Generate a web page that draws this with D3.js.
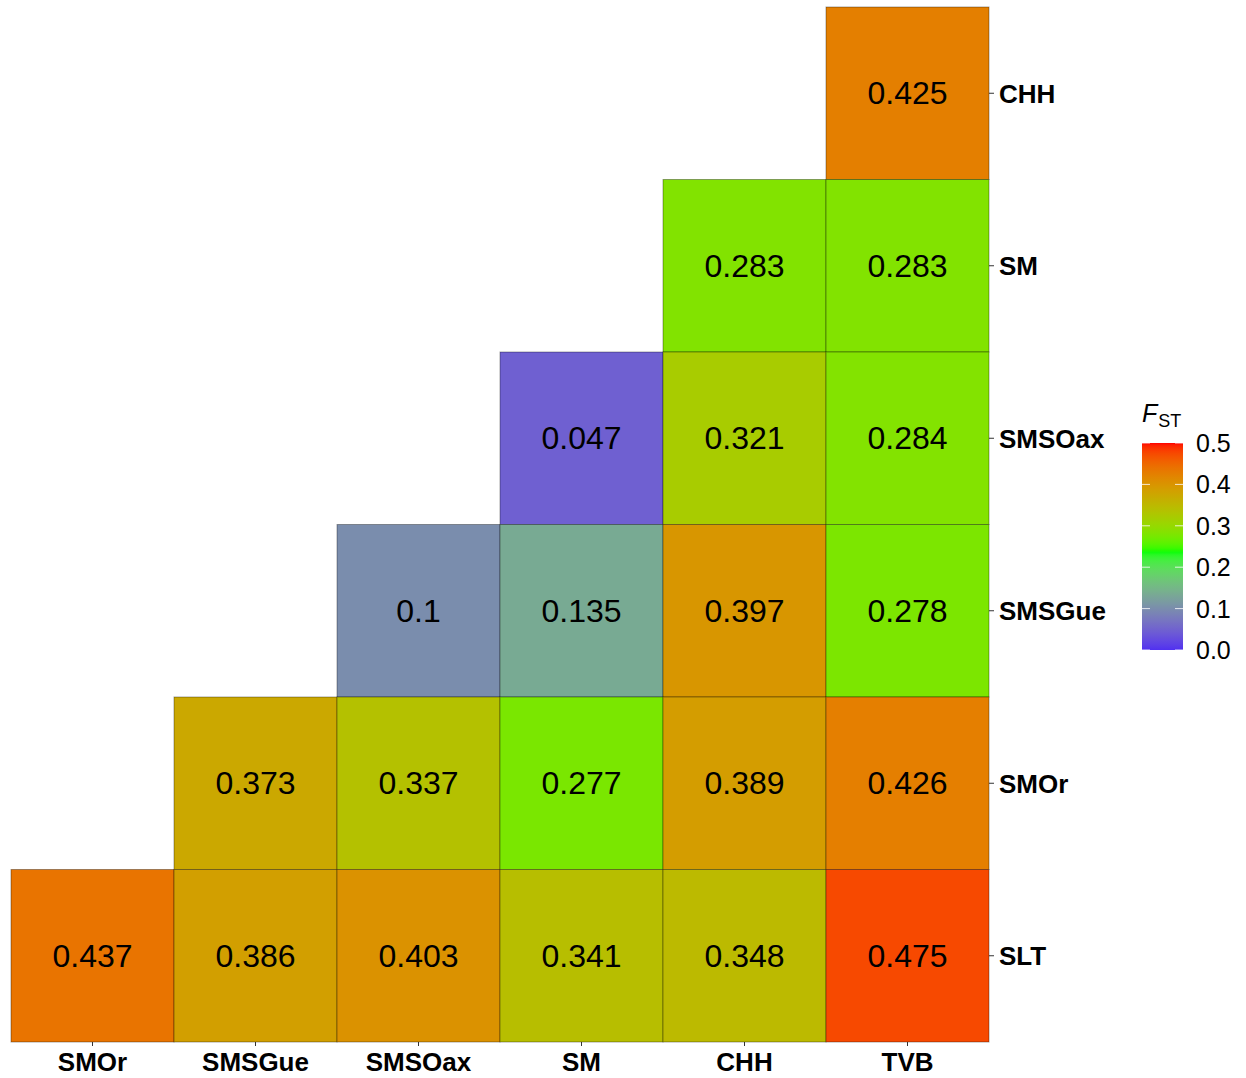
<!DOCTYPE html>
<html>
<head>
<meta charset="utf-8">
<script src="https://cdn.jsdelivr.net/npm/d3@7/dist/d3.min.js"></script>
<style>
  html, body { margin: 0; padding: 0; background: #ffffff; }
  svg { display: block; font-family: "Liberation Sans", Arial, sans-serif; }
</style>
</head>
<body>
<svg id="chart" width="1246" height="1078"></svg>
<script>
// Population order along each axis
const colPops = ["SMOr", "SMSGue", "SMSOax", "SM", "CHH", "TVB"];
const rowPops = ["CHH", "SM", "SMSOax", "SMSGue", "SMOr", "SLT"];

// Pairwise FST: column population, row population, value
const pairCol = ["TVB",
                 "CHH", "TVB",
                 "SM", "CHH", "TVB",
                 "SMSOax", "SM", "CHH", "TVB",
                 "SMSGue", "SMSOax", "SM", "CHH", "TVB",
                 "SMOr", "SMSGue", "SMSOax", "SM", "CHH", "TVB"];
const pairRow = ["CHH",
                 "SM", "SM",
                 "SMSOax", "SMSOax", "SMSOax",
                 "SMSGue", "SMSGue", "SMSGue", "SMSGue",
                 "SMOr", "SMOr", "SMOr", "SMOr", "SMOr",
                 "SLT", "SLT", "SLT", "SLT", "SLT", "SLT"];
const fstValues = [0.425,
                   0.283, 0.283,
                   0.047, 0.321, 0.284,
                   0.1, 0.135, 0.397, 0.278,
                   0.373, 0.337, 0.277, 0.389, 0.426,
                   0.437, 0.386, 0.403, 0.341, 0.348, 0.475];

// Colour scale stops and legend breaks
const colorStops = [0, 0.237, 0.5];
const colorRange = ["#5030f0", "#00ff00", "#ff0000"];
const legendTicks = [0.0, 0.1, 0.2, 0.3, 0.4, 0.5];

const cells = fstValues.map((v, i) => ({ col: pairCol[i], row: pairRow[i], value: v }));

const svg = d3.select("#chart");

const x = d3.scaleBand().domain(colPops).range([11, 989]).padding(0);
const y = d3.scaleBand().domain(rowPops).range([7, 1042]).padding(0);

const fill = d3.scaleLinear()
  .domain(colorStops)
  .range(colorRange)
  .interpolate(d3.interpolateLab)
  .clamp(true);

// Tiles
svg.append("g")
  .selectAll("rect")
  .data(cells)
  .join("rect")
  .attr("x", d => x(d.col))
  .attr("y", d => y(d.row))
  .attr("width", x.bandwidth())
  .attr("height", y.bandwidth())
  .attr("fill", d => fill(d.value))
  .attr("stroke", "rgba(0,0,0,0.35)")
  .attr("stroke-width", 1);

// Tile labels
svg.append("g")
  .selectAll("text")
  .data(cells)
  .join("text")
  .attr("x", d => x(d.col) + x.bandwidth() / 2)
  .attr("y", d => y(d.row) + y.bandwidth() / 2)
  .attr("text-anchor", "middle")
  .attr("dominant-baseline", "central")
  .attr("font-size", 32)
  .attr("fill", "#000")
  .text(d => String(d.value));

// Bottom axis
const xAxis = svg.append("g")
  .attr("transform", "translate(0,1042)")
  .call(d3.axisBottom(x).tickSize(4).tickPadding(7));
xAxis.select(".domain").remove();
xAxis.selectAll(".tick line").attr("stroke", "#333").attr("stroke-width", 1);
xAxis.selectAll(".tick text")
  .attr("font-size", 26).attr("font-weight", "bold").attr("fill", "#000")
  .attr("font-family", "Liberation Sans, Arial, sans-serif");

// Right axis
const yAxis = svg.append("g")
  .attr("transform", "translate(989,0)")
  .call(d3.axisRight(y).tickSize(5).tickPadding(5));
yAxis.select(".domain").remove();
yAxis.selectAll(".tick line").attr("stroke", "#333").attr("stroke-width", 1);
yAxis.selectAll(".tick text")
  .attr("font-size", 26).attr("font-weight", "bold").attr("fill", "#000")
  .attr("font-family", "Liberation Sans, Arial, sans-serif")
  .attr("dy", "0.36em");

// Colour bar legend
const barX = 1142, barW = 41, barTop = 443, barBottom = 650;
const ly = d3.scaleLinear().domain([0, 0.5]).range([barBottom, barTop]);

const defs = svg.append("defs");
const grad = defs.append("linearGradient")
  .attr("id", "fstGrad")
  .attr("x1", 0).attr("y1", 1).attr("x2", 0).attr("y2", 0);
grad.selectAll("stop")
  .data(d3.range(0, 101).map(i => i / 100))
  .join("stop")
  .attr("offset", t => t)
  .attr("stop-color", t => fill(t * 0.5));

svg.append("rect")
  .attr("x", barX).attr("y", barTop)
  .attr("width", barW).attr("height", barBottom - barTop)
  .attr("fill", "url(#fstGrad)");

const lg = svg.append("g");
lg.selectAll("line.l")
  .data(legendTicks)
  .join("line")
  .attr("class", "l")
  .attr("x1", barX).attr("x2", barX + 8)
  .attr("y1", d => ly(d)).attr("y2", d => ly(d))
  .attr("stroke", "#fff").attr("stroke-opacity", 0.8).attr("stroke-width", 1);
lg.selectAll("line.r")
  .data(legendTicks)
  .join("line")
  .attr("class", "r")
  .attr("x1", barX + barW - 8).attr("x2", barX + barW)
  .attr("y1", d => ly(d)).attr("y2", d => ly(d))
  .attr("stroke", "#fff").attr("stroke-opacity", 0.8).attr("stroke-width", 1);
lg.selectAll("text")
  .data(legendTicks)
  .join("text")
  .attr("x", 1196)
  .attr("y", d => ly(d))
  .attr("dominant-baseline", "central")
  .attr("font-size", 25)
  .attr("fill", "#000")
  .text(d => d.toFixed(1));

// Legend title: italic F with subscript ST
const title = svg.append("text")
  .attr("x", 1142)
  .attr("y", 422)
  .attr("font-size", 25)
  .attr("fill", "#000");
title.append("tspan").attr("font-style", "italic").text("F");
title.append("tspan").attr("font-size", 18).attr("dy", 5).attr("dx", 1).text("ST");
</script>
</body>
</html>
